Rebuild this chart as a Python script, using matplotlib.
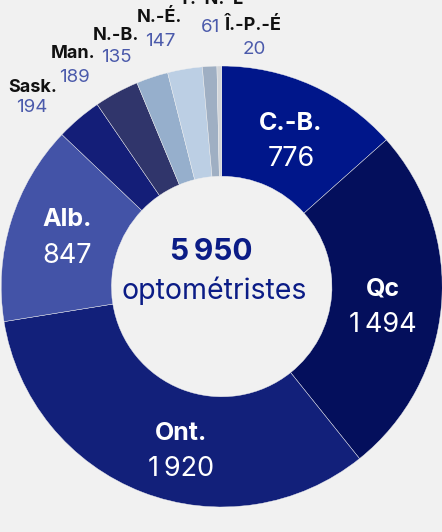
import matplotlib
matplotlib.use("Agg")
import matplotlib.pyplot as plt

plt.rcParams['font.family'] = ['Inter', 'DejaVu Sans']

provinces = ["C.-B.", "Qc", "Ont.", "Alb.", "Sask.", "Man.", "N.-B.", "N.-É.", "T.-N.-L", "Î.-P.-É"]
values = [776, 1494, 1920, 847, 194, 189, 135, 147, 61, 20]
value_labels = ["776", "1\u202f494", "1\u202f920", "847", "194", "189", "135", "147", "61", "20"]
colors = ["#00168A", "#040F5C", "#12207A", "#4353A7", "#141E78", "#30356B",
          "#96AFCC", "#BCCFE4", "#9FAFC3", "#D2D5D9"]
total_label = "5\u202f950"
center_label = "optométristes"

BG = "#F1F1F1"
W, H = 442, 532
fig = plt.figure(figsize=(W / 100, H / 100), dpi=100, facecolor=BG)
ax = fig.add_axes([0, 0, 1, 1])
ax.set_facecolor(BG)

cx, cy = 221.7, H - 286.5
R = 220.5
ax.pie(values, colors=colors, startangle=90, counterclock=False,
       center=(cx, cy), radius=R,
       wedgeprops=dict(width=R * 0.5, edgecolor=BG, linewidth=0.3))
ax.set_xlim(0, W)
ax.set_ylim(0, H)
ax.set_aspect('equal')
ax.axis('off')

def px(x, y):
    return x, H - y

# inside labels (pixel positions)
inside = {
    "C.-B.": ((291, 124), (291, 159)),
    "Qc": ((383, 289), (383, 325)),
    "Ont.": ((181, 433), (181, 469)),
    "Alb.": ((67, 220), (67, 256)),
}
for name, vlab in zip(provinces, value_labels):
    if name in inside:
        (nx, ny), (vx, vy) = inside[name]
        ax.text(*px(nx, ny), name, color="white", fontsize=18, fontweight="bold",
                ha="center", va="center")
        ax.text(*px(vx, vy), vlab, color="white", fontsize=19.5,
                ha="center", va="center")

# outside labels
outside = {
    "Sask.": ((33, 87), (32, 108)),
    "Man.": ((73, 53), (74, 77)),
    "N.-B.": ((116, 35), (116, 58)),
    "N.-É.": ((159, 17), (160, 42)),
    "T.-N.-L": ((211, -1), (211, 27)),
    "Î.-P.-É": ((253, 26), (254, 49)),
}
for name, vlab in zip(provinces, value_labels):
    if name in outside:
        (nx, ny), (vx, vy) = outside[name]
        ax.text(*px(nx, ny), name, color="#111111", fontsize=13, fontweight="bold",
                ha="center", va="center")
        ax.text(*px(vx, vy), vlab, color="#4B5AAB", fontsize=13.5,
                ha="center", va="center")

ax.text(*px(211, 252), total_label, color="#0B1C86", fontsize=21.5, fontweight="bold",
        ha="center", va="center")
ax.text(*px(214, 291), center_label, color="#0B1C86", fontsize=20.5,
        ha="center", va="center")

fig.savefig("out.png", dpi=100, facecolor=BG)
